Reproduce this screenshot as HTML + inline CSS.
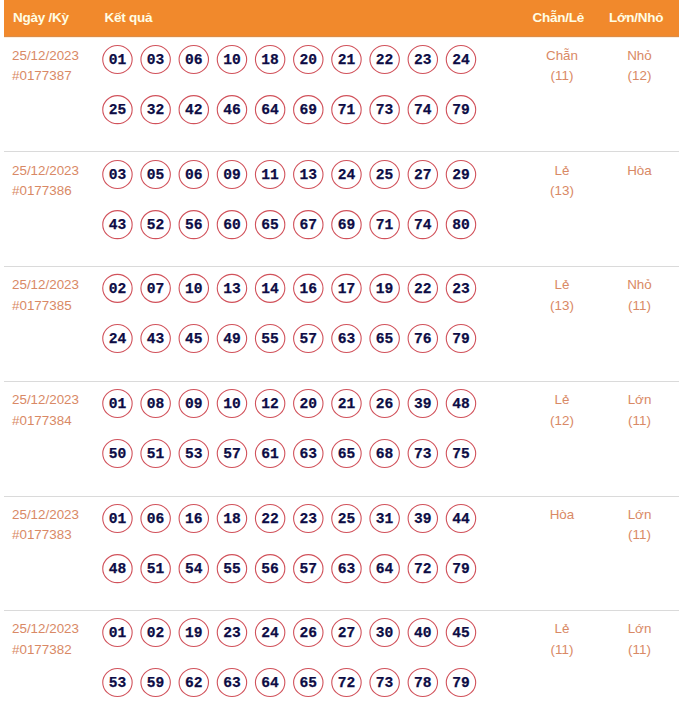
<!DOCTYPE html>
<html><head><meta charset="utf-8"><title>Kết quả</title><style>
*{margin:0;padding:0;box-sizing:border-box}
html,body{width:684px;height:723px;overflow:hidden;background:#fff}
body{position:relative;font-family:"Liberation Sans",sans-serif}
.hd{position:absolute;left:4px;top:0;width:675px;height:36px;background:#f1892c}
.hb1{position:absolute;left:4px;top:36px;width:675px;height:1px;background:#dc8c47}
.hb2{position:absolute;left:4px;top:37px;width:675px;height:1px;background:#fdeedd}
.ht{position:absolute;color:#fffde4;font-weight:bold;font-size:13.5px;letter-spacing:-0.25px;line-height:20px;white-space:nowrap}
.d{position:absolute;left:12px;color:#d98965;font-size:13.4px;line-height:20px;white-space:nowrap}
.v{position:absolute;color:#d98965;font-size:13.4px;line-height:20px;white-space:nowrap;width:80px;text-align:center}
.n{position:absolute;width:30px;height:20px;color:#0d0c45;font-family:"Liberation Mono",monospace;font-weight:bold;font-size:14.6px;
  line-height:20px;text-align:center;-webkit-text-stroke:0.25px #0d0c45}
.ln{position:absolute;left:4px;width:675px;height:1px;background:#dadada}
svg{position:absolute;left:0;top:0}
</style></head>
<body>
<svg width="684" height="723" viewBox="0 0 684 723"><g fill="none" stroke="#d1525b" stroke-width="1.1"><ellipse cx="117.45" cy="59.55" rx="14.7" ry="14.0"/><ellipse cx="155.62" cy="59.55" rx="14.7" ry="14.0"/><ellipse cx="193.79" cy="59.55" rx="14.7" ry="14.0"/><ellipse cx="231.96" cy="59.55" rx="14.7" ry="14.0"/><ellipse cx="270.13" cy="59.55" rx="14.7" ry="14.0"/><ellipse cx="308.3" cy="59.55" rx="14.7" ry="14.0"/><ellipse cx="346.47" cy="59.55" rx="14.7" ry="14.0"/><ellipse cx="384.64" cy="59.55" rx="14.7" ry="14.0"/><ellipse cx="422.81" cy="59.55" rx="14.7" ry="14.0"/><ellipse cx="460.98" cy="59.55" rx="14.7" ry="14.0"/><ellipse cx="117.45" cy="109.65" rx="14.7" ry="14.0"/><ellipse cx="155.62" cy="109.65" rx="14.7" ry="14.0"/><ellipse cx="193.79" cy="109.65" rx="14.7" ry="14.0"/><ellipse cx="231.96" cy="109.65" rx="14.7" ry="14.0"/><ellipse cx="270.13" cy="109.65" rx="14.7" ry="14.0"/><ellipse cx="308.3" cy="109.65" rx="14.7" ry="14.0"/><ellipse cx="346.47" cy="109.65" rx="14.7" ry="14.0"/><ellipse cx="384.64" cy="109.65" rx="14.7" ry="14.0"/><ellipse cx="422.81" cy="109.65" rx="14.7" ry="14.0"/><ellipse cx="460.98" cy="109.65" rx="14.7" ry="14.0"/><ellipse cx="117.45" cy="174.55" rx="14.7" ry="14.0"/><ellipse cx="155.62" cy="174.55" rx="14.7" ry="14.0"/><ellipse cx="193.79" cy="174.55" rx="14.7" ry="14.0"/><ellipse cx="231.96" cy="174.55" rx="14.7" ry="14.0"/><ellipse cx="270.13" cy="174.55" rx="14.7" ry="14.0"/><ellipse cx="308.3" cy="174.55" rx="14.7" ry="14.0"/><ellipse cx="346.47" cy="174.55" rx="14.7" ry="14.0"/><ellipse cx="384.64" cy="174.55" rx="14.7" ry="14.0"/><ellipse cx="422.81" cy="174.55" rx="14.7" ry="14.0"/><ellipse cx="460.98" cy="174.55" rx="14.7" ry="14.0"/><ellipse cx="117.45" cy="224.65" rx="14.7" ry="14.0"/><ellipse cx="155.62" cy="224.65" rx="14.7" ry="14.0"/><ellipse cx="193.79" cy="224.65" rx="14.7" ry="14.0"/><ellipse cx="231.96" cy="224.65" rx="14.7" ry="14.0"/><ellipse cx="270.13" cy="224.65" rx="14.7" ry="14.0"/><ellipse cx="308.3" cy="224.65" rx="14.7" ry="14.0"/><ellipse cx="346.47" cy="224.65" rx="14.7" ry="14.0"/><ellipse cx="384.64" cy="224.65" rx="14.7" ry="14.0"/><ellipse cx="422.81" cy="224.65" rx="14.7" ry="14.0"/><ellipse cx="460.98" cy="224.65" rx="14.7" ry="14.0"/><ellipse cx="117.45" cy="288.35" rx="14.7" ry="14.0"/><ellipse cx="155.62" cy="288.35" rx="14.7" ry="14.0"/><ellipse cx="193.79" cy="288.35" rx="14.7" ry="14.0"/><ellipse cx="231.96" cy="288.35" rx="14.7" ry="14.0"/><ellipse cx="270.13" cy="288.35" rx="14.7" ry="14.0"/><ellipse cx="308.3" cy="288.35" rx="14.7" ry="14.0"/><ellipse cx="346.47" cy="288.35" rx="14.7" ry="14.0"/><ellipse cx="384.64" cy="288.35" rx="14.7" ry="14.0"/><ellipse cx="422.81" cy="288.35" rx="14.7" ry="14.0"/><ellipse cx="460.98" cy="288.35" rx="14.7" ry="14.0"/><ellipse cx="117.45" cy="338.45" rx="14.7" ry="14.0"/><ellipse cx="155.62" cy="338.45" rx="14.7" ry="14.0"/><ellipse cx="193.79" cy="338.45" rx="14.7" ry="14.0"/><ellipse cx="231.96" cy="338.45" rx="14.7" ry="14.0"/><ellipse cx="270.13" cy="338.45" rx="14.7" ry="14.0"/><ellipse cx="308.3" cy="338.45" rx="14.7" ry="14.0"/><ellipse cx="346.47" cy="338.45" rx="14.7" ry="14.0"/><ellipse cx="384.64" cy="338.45" rx="14.7" ry="14.0"/><ellipse cx="422.81" cy="338.45" rx="14.7" ry="14.0"/><ellipse cx="460.98" cy="338.45" rx="14.7" ry="14.0"/><ellipse cx="117.45" cy="403.45" rx="14.7" ry="14.0"/><ellipse cx="155.62" cy="403.45" rx="14.7" ry="14.0"/><ellipse cx="193.79" cy="403.45" rx="14.7" ry="14.0"/><ellipse cx="231.96" cy="403.45" rx="14.7" ry="14.0"/><ellipse cx="270.13" cy="403.45" rx="14.7" ry="14.0"/><ellipse cx="308.3" cy="403.45" rx="14.7" ry="14.0"/><ellipse cx="346.47" cy="403.45" rx="14.7" ry="14.0"/><ellipse cx="384.64" cy="403.45" rx="14.7" ry="14.0"/><ellipse cx="422.81" cy="403.45" rx="14.7" ry="14.0"/><ellipse cx="460.98" cy="403.45" rx="14.7" ry="14.0"/><ellipse cx="117.45" cy="453.55" rx="14.7" ry="14.0"/><ellipse cx="155.62" cy="453.55" rx="14.7" ry="14.0"/><ellipse cx="193.79" cy="453.55" rx="14.7" ry="14.0"/><ellipse cx="231.96" cy="453.55" rx="14.7" ry="14.0"/><ellipse cx="270.13" cy="453.55" rx="14.7" ry="14.0"/><ellipse cx="308.3" cy="453.55" rx="14.7" ry="14.0"/><ellipse cx="346.47" cy="453.55" rx="14.7" ry="14.0"/><ellipse cx="384.64" cy="453.55" rx="14.7" ry="14.0"/><ellipse cx="422.81" cy="453.55" rx="14.7" ry="14.0"/><ellipse cx="460.98" cy="453.55" rx="14.7" ry="14.0"/><ellipse cx="117.45" cy="518.55" rx="14.7" ry="14.0"/><ellipse cx="155.62" cy="518.55" rx="14.7" ry="14.0"/><ellipse cx="193.79" cy="518.55" rx="14.7" ry="14.0"/><ellipse cx="231.96" cy="518.55" rx="14.7" ry="14.0"/><ellipse cx="270.13" cy="518.55" rx="14.7" ry="14.0"/><ellipse cx="308.3" cy="518.55" rx="14.7" ry="14.0"/><ellipse cx="346.47" cy="518.55" rx="14.7" ry="14.0"/><ellipse cx="384.64" cy="518.55" rx="14.7" ry="14.0"/><ellipse cx="422.81" cy="518.55" rx="14.7" ry="14.0"/><ellipse cx="460.98" cy="518.55" rx="14.7" ry="14.0"/><ellipse cx="117.45" cy="568.65" rx="14.7" ry="14.0"/><ellipse cx="155.62" cy="568.65" rx="14.7" ry="14.0"/><ellipse cx="193.79" cy="568.65" rx="14.7" ry="14.0"/><ellipse cx="231.96" cy="568.65" rx="14.7" ry="14.0"/><ellipse cx="270.13" cy="568.65" rx="14.7" ry="14.0"/><ellipse cx="308.3" cy="568.65" rx="14.7" ry="14.0"/><ellipse cx="346.47" cy="568.65" rx="14.7" ry="14.0"/><ellipse cx="384.64" cy="568.65" rx="14.7" ry="14.0"/><ellipse cx="422.81" cy="568.65" rx="14.7" ry="14.0"/><ellipse cx="460.98" cy="568.65" rx="14.7" ry="14.0"/><ellipse cx="117.45" cy="632.45" rx="14.7" ry="14.0"/><ellipse cx="155.62" cy="632.45" rx="14.7" ry="14.0"/><ellipse cx="193.79" cy="632.45" rx="14.7" ry="14.0"/><ellipse cx="231.96" cy="632.45" rx="14.7" ry="14.0"/><ellipse cx="270.13" cy="632.45" rx="14.7" ry="14.0"/><ellipse cx="308.3" cy="632.45" rx="14.7" ry="14.0"/><ellipse cx="346.47" cy="632.45" rx="14.7" ry="14.0"/><ellipse cx="384.64" cy="632.45" rx="14.7" ry="14.0"/><ellipse cx="422.81" cy="632.45" rx="14.7" ry="14.0"/><ellipse cx="460.98" cy="632.45" rx="14.7" ry="14.0"/><ellipse cx="117.45" cy="682.55" rx="14.7" ry="14.0"/><ellipse cx="155.62" cy="682.55" rx="14.7" ry="14.0"/><ellipse cx="193.79" cy="682.55" rx="14.7" ry="14.0"/><ellipse cx="231.96" cy="682.55" rx="14.7" ry="14.0"/><ellipse cx="270.13" cy="682.55" rx="14.7" ry="14.0"/><ellipse cx="308.3" cy="682.55" rx="14.7" ry="14.0"/><ellipse cx="346.47" cy="682.55" rx="14.7" ry="14.0"/><ellipse cx="384.64" cy="682.55" rx="14.7" ry="14.0"/><ellipse cx="422.81" cy="682.55" rx="14.7" ry="14.0"/><ellipse cx="460.98" cy="682.55" rx="14.7" ry="14.0"/></g></svg>
<div class="hd"></div><div class="hb1"></div><div class="hb2"></div>
<div class="ht" style="left:13px;top:7.92px">Ngày /Kỳ</div>
<div class="ht" style="left:104.5px;top:7.92px">Kết quả</div>
<div class="ht" style="left:532.5px;top:7.92px">Chẵn/Lẻ</div>
<div class="ht" style="left:609px;top:7.92px">Lớn/Nhỏ</div>
<div class="d" style="top:45.96px">25/12/2023</div>
<div class="d" style="top:65.96px">#0177387</div>
<div class="n" style="left:102.45px;top:50.06px">01</div>
<div class="n" style="left:140.62px;top:50.06px">03</div>
<div class="n" style="left:178.79px;top:50.06px">06</div>
<div class="n" style="left:216.96px;top:50.06px">10</div>
<div class="n" style="left:255.13px;top:50.06px">18</div>
<div class="n" style="left:293.3px;top:50.06px">20</div>
<div class="n" style="left:331.47px;top:50.06px">21</div>
<div class="n" style="left:369.64px;top:50.06px">22</div>
<div class="n" style="left:407.81px;top:50.06px">23</div>
<div class="n" style="left:445.98px;top:50.06px">24</div>
<div class="n" style="left:102.45px;top:100.16px">25</div>
<div class="n" style="left:140.62px;top:100.16px">32</div>
<div class="n" style="left:178.79px;top:100.16px">42</div>
<div class="n" style="left:216.96px;top:100.16px">46</div>
<div class="n" style="left:255.13px;top:100.16px">64</div>
<div class="n" style="left:293.3px;top:100.16px">69</div>
<div class="n" style="left:331.47px;top:100.16px">71</div>
<div class="n" style="left:369.64px;top:100.16px">73</div>
<div class="n" style="left:407.81px;top:100.16px">74</div>
<div class="n" style="left:445.98px;top:100.16px">79</div>
<div class="v" style="left:522px;top:45.96px">Chẵn</div>
<div class="v" style="left:522px;top:65.96px">(11)</div>
<div class="v" style="left:599.5px;top:45.96px">Nhỏ</div>
<div class="v" style="left:599.5px;top:65.96px">(12)</div>
<div class="ln" style="top:151px"></div>
<div class="d" style="top:160.96px">25/12/2023</div>
<div class="d" style="top:180.96px">#0177386</div>
<div class="n" style="left:102.45px;top:165.06px">03</div>
<div class="n" style="left:140.62px;top:165.06px">05</div>
<div class="n" style="left:178.79px;top:165.06px">06</div>
<div class="n" style="left:216.96px;top:165.06px">09</div>
<div class="n" style="left:255.13px;top:165.06px">11</div>
<div class="n" style="left:293.3px;top:165.06px">13</div>
<div class="n" style="left:331.47px;top:165.06px">24</div>
<div class="n" style="left:369.64px;top:165.06px">25</div>
<div class="n" style="left:407.81px;top:165.06px">27</div>
<div class="n" style="left:445.98px;top:165.06px">29</div>
<div class="n" style="left:102.45px;top:215.16px">43</div>
<div class="n" style="left:140.62px;top:215.16px">52</div>
<div class="n" style="left:178.79px;top:215.16px">56</div>
<div class="n" style="left:216.96px;top:215.16px">60</div>
<div class="n" style="left:255.13px;top:215.16px">65</div>
<div class="n" style="left:293.3px;top:215.16px">67</div>
<div class="n" style="left:331.47px;top:215.16px">69</div>
<div class="n" style="left:369.64px;top:215.16px">71</div>
<div class="n" style="left:407.81px;top:215.16px">74</div>
<div class="n" style="left:445.98px;top:215.16px">80</div>
<div class="v" style="left:522px;top:160.96px">Lẻ</div>
<div class="v" style="left:522px;top:180.96px">(13)</div>
<div class="v" style="left:599.5px;top:160.96px">Hòa</div>
<div class="ln" style="top:266px"></div>
<div class="d" style="top:274.96px">25/12/2023</div>
<div class="d" style="top:295.96px">#0177385</div>
<div class="n" style="left:102.45px;top:278.86px">02</div>
<div class="n" style="left:140.62px;top:278.86px">07</div>
<div class="n" style="left:178.79px;top:278.86px">10</div>
<div class="n" style="left:216.96px;top:278.86px">13</div>
<div class="n" style="left:255.13px;top:278.86px">14</div>
<div class="n" style="left:293.3px;top:278.86px">16</div>
<div class="n" style="left:331.47px;top:278.86px">17</div>
<div class="n" style="left:369.64px;top:278.86px">19</div>
<div class="n" style="left:407.81px;top:278.86px">22</div>
<div class="n" style="left:445.98px;top:278.86px">23</div>
<div class="n" style="left:102.45px;top:328.96px">24</div>
<div class="n" style="left:140.62px;top:328.96px">43</div>
<div class="n" style="left:178.79px;top:328.96px">45</div>
<div class="n" style="left:216.96px;top:328.96px">49</div>
<div class="n" style="left:255.13px;top:328.96px">55</div>
<div class="n" style="left:293.3px;top:328.96px">57</div>
<div class="n" style="left:331.47px;top:328.96px">63</div>
<div class="n" style="left:369.64px;top:328.96px">65</div>
<div class="n" style="left:407.81px;top:328.96px">76</div>
<div class="n" style="left:445.98px;top:328.96px">79</div>
<div class="v" style="left:522px;top:274.96px">Lẻ</div>
<div class="v" style="left:522px;top:295.96px">(13)</div>
<div class="v" style="left:599.5px;top:274.96px">Nhỏ</div>
<div class="v" style="left:599.5px;top:295.96px">(11)</div>
<div class="ln" style="top:381px"></div>
<div class="d" style="top:389.96px">25/12/2023</div>
<div class="d" style="top:410.96px">#0177384</div>
<div class="n" style="left:102.45px;top:393.96px">01</div>
<div class="n" style="left:140.62px;top:393.96px">08</div>
<div class="n" style="left:178.79px;top:393.96px">09</div>
<div class="n" style="left:216.96px;top:393.96px">10</div>
<div class="n" style="left:255.13px;top:393.96px">12</div>
<div class="n" style="left:293.3px;top:393.96px">20</div>
<div class="n" style="left:331.47px;top:393.96px">21</div>
<div class="n" style="left:369.64px;top:393.96px">26</div>
<div class="n" style="left:407.81px;top:393.96px">39</div>
<div class="n" style="left:445.98px;top:393.96px">48</div>
<div class="n" style="left:102.45px;top:444.06px">50</div>
<div class="n" style="left:140.62px;top:444.06px">51</div>
<div class="n" style="left:178.79px;top:444.06px">53</div>
<div class="n" style="left:216.96px;top:444.06px">57</div>
<div class="n" style="left:255.13px;top:444.06px">61</div>
<div class="n" style="left:293.3px;top:444.06px">63</div>
<div class="n" style="left:331.47px;top:444.06px">65</div>
<div class="n" style="left:369.64px;top:444.06px">68</div>
<div class="n" style="left:407.81px;top:444.06px">73</div>
<div class="n" style="left:445.98px;top:444.06px">75</div>
<div class="v" style="left:522px;top:389.96px">Lẻ</div>
<div class="v" style="left:522px;top:410.96px">(12)</div>
<div class="v" style="left:599.5px;top:389.96px">Lớn</div>
<div class="v" style="left:599.5px;top:410.96px">(11)</div>
<div class="ln" style="top:496px"></div>
<div class="d" style="top:504.96px">25/12/2023</div>
<div class="d" style="top:524.96px">#0177383</div>
<div class="n" style="left:102.45px;top:509.06px">01</div>
<div class="n" style="left:140.62px;top:509.06px">06</div>
<div class="n" style="left:178.79px;top:509.06px">16</div>
<div class="n" style="left:216.96px;top:509.06px">18</div>
<div class="n" style="left:255.13px;top:509.06px">22</div>
<div class="n" style="left:293.3px;top:509.06px">23</div>
<div class="n" style="left:331.47px;top:509.06px">25</div>
<div class="n" style="left:369.64px;top:509.06px">31</div>
<div class="n" style="left:407.81px;top:509.06px">39</div>
<div class="n" style="left:445.98px;top:509.06px">44</div>
<div class="n" style="left:102.45px;top:559.16px">48</div>
<div class="n" style="left:140.62px;top:559.16px">51</div>
<div class="n" style="left:178.79px;top:559.16px">54</div>
<div class="n" style="left:216.96px;top:559.16px">55</div>
<div class="n" style="left:255.13px;top:559.16px">56</div>
<div class="n" style="left:293.3px;top:559.16px">57</div>
<div class="n" style="left:331.47px;top:559.16px">63</div>
<div class="n" style="left:369.64px;top:559.16px">64</div>
<div class="n" style="left:407.81px;top:559.16px">72</div>
<div class="n" style="left:445.98px;top:559.16px">79</div>
<div class="v" style="left:522px;top:504.96px">Hòa</div>
<div class="v" style="left:599.5px;top:504.96px">Lớn</div>
<div class="v" style="left:599.5px;top:524.96px">(11)</div>
<div class="ln" style="top:610px"></div>
<div class="d" style="top:618.96px">25/12/2023</div>
<div class="d" style="top:639.96px">#0177382</div>
<div class="n" style="left:102.45px;top:622.96px">01</div>
<div class="n" style="left:140.62px;top:622.96px">02</div>
<div class="n" style="left:178.79px;top:622.96px">19</div>
<div class="n" style="left:216.96px;top:622.96px">23</div>
<div class="n" style="left:255.13px;top:622.96px">24</div>
<div class="n" style="left:293.3px;top:622.96px">26</div>
<div class="n" style="left:331.47px;top:622.96px">27</div>
<div class="n" style="left:369.64px;top:622.96px">30</div>
<div class="n" style="left:407.81px;top:622.96px">40</div>
<div class="n" style="left:445.98px;top:622.96px">45</div>
<div class="n" style="left:102.45px;top:673.06px">53</div>
<div class="n" style="left:140.62px;top:673.06px">59</div>
<div class="n" style="left:178.79px;top:673.06px">62</div>
<div class="n" style="left:216.96px;top:673.06px">63</div>
<div class="n" style="left:255.13px;top:673.06px">64</div>
<div class="n" style="left:293.3px;top:673.06px">65</div>
<div class="n" style="left:331.47px;top:673.06px">72</div>
<div class="n" style="left:369.64px;top:673.06px">73</div>
<div class="n" style="left:407.81px;top:673.06px">78</div>
<div class="n" style="left:445.98px;top:673.06px">79</div>
<div class="v" style="left:522px;top:618.96px">Lẻ</div>
<div class="v" style="left:522px;top:639.96px">(11)</div>
<div class="v" style="left:599.5px;top:618.96px">Lớn</div>
<div class="v" style="left:599.5px;top:639.96px">(11)</div>
</body></html>
